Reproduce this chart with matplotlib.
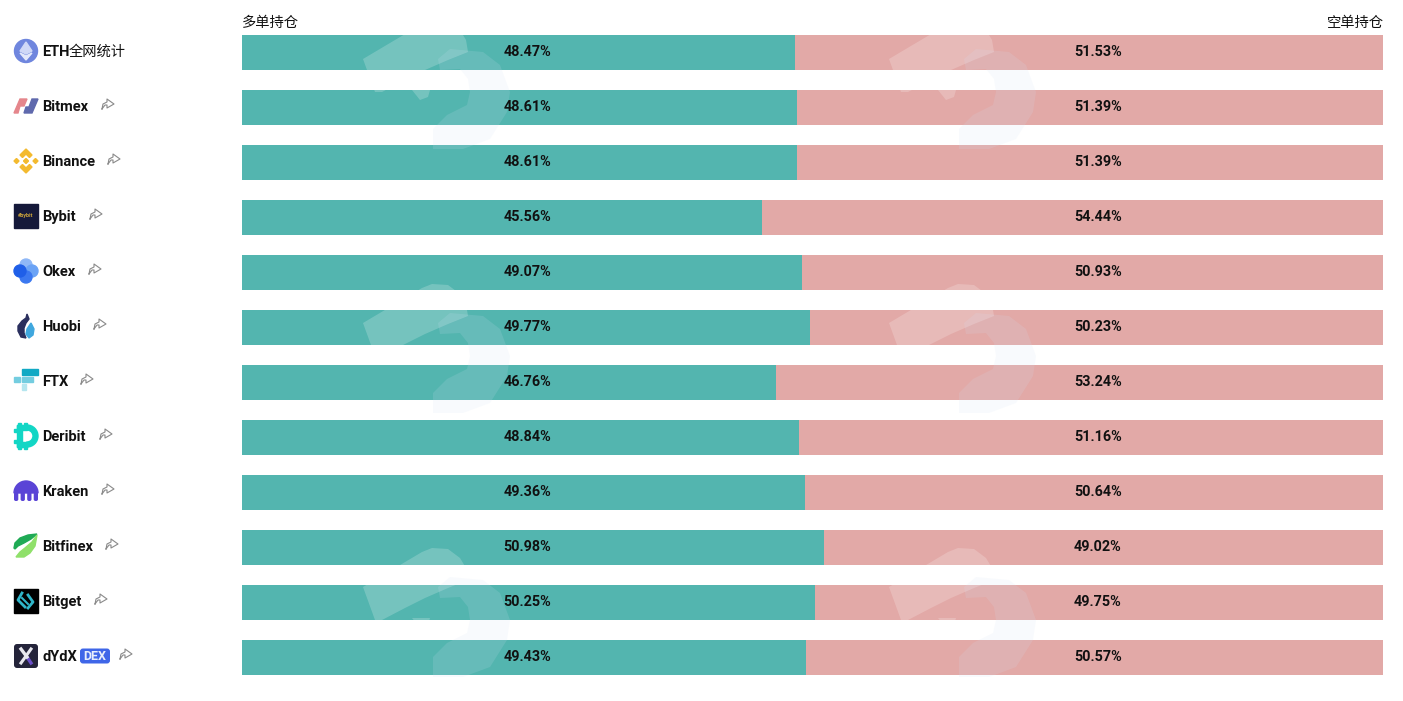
import matplotlib
matplotlib.use('Agg')
import matplotlib.pyplot as plt
from matplotlib.patches import Circle, Polygon, Rectangle, FancyBboxPatch, Wedge

plt.rcParams['font.family'] = ['Roboto', 'Noto Sans CJK SC', 'DejaVu Sans']

exchanges = ['ETH全网统计', 'Bitmex', 'Binance', 'Bybit', 'Okex', 'Huobi', 'FTX',
             'Deribit', 'Kraken', 'Bitfinex', 'Bitget', 'dYdX']
long_pct = [48.47, 48.61, 48.61, 45.56, 49.07, 49.77, 46.76, 48.84, 49.36, 50.98, 50.25, 49.43]
short_pct = [51.53, 51.39, 51.39, 54.44, 50.93, 50.23, 53.24, 51.16, 50.64, 49.02, 49.75, 50.57]
long_title = '多单持仓'
short_title = '空单持仓'

W, H = 1403, 701
GREEN = '#53b5af'
RED = '#e2a9a7'
DARK = '#111111'

fig = plt.figure(figsize=(W / 100, H / 100), dpi=100, facecolor='white')

# overlay in pixel coordinates for logos and row labels
ov = fig.add_axes([0, 0, 1, 1], facecolor='none')
ov.set_xlim(0, W)
ov.set_ylim(H, 0)
ov.axis('off')

# bars
ax = fig.add_axes([242 / W, 1 - 675 / H, 1141 / W, 640 / H])
rows = list(range(len(exchanges)))
ax.barh(rows, long_pct, height=35 / 55, color=GREEN, zorder=1)
ax.barh(rows, short_pct, left=long_pct, height=35 / 55, color=RED, zorder=1)
ax.set_xlim(0, 100)
ax.set_ylim(11 + 17.5 / 55, -17.5 / 55)
ax.axis('off')

# the labels sit at fixed spots, not in the middle of each bar
for i in rows:
    ax.text(25, i - 0.006, f'{long_pct[i]:.2f}%', ha='center', va='center',
            fontsize=10.4, fontweight='bold', color=DARK, zorder=5)
    ax.text(75, i - 0.006, f'{short_pct[i]:.2f}%', ha='center', va='center',
            fontsize=10.4, fontweight='bold', color=DARK, zorder=5)


def watermark(dx, dy):
    light = [(363, 59), (422, 24), (432, 20), (448, 21), (460, 30), (466, 40), (468, 52),
             (448, 60), (425, 70), (405, 80), (382, 92), (375, 92)]
    crescent = [(450, 49), (483, 52), (500, 65), (510, 92), (507, 112), (490, 139), (463, 149),
                (433, 149), (433, 129), (447, 115), (467, 105), (470, 92), (468, 79),
                (460, 69), (440, 70), (438, 59)]
    bit = [(412, 90), (430, 90), (428, 97), (420, 100)]
    kw = dict(transform=ov.transData, lw=0, zorder=3, clip_on=False)
    ax.add_patch(Polygon([(x + dx, y + dy) for x, y in light], color='white', alpha=0.2, **kw))
    ax.add_patch(Polygon([(x + dx, y + dy) for x, y in crescent], color='#d3e2f5', alpha=0.15, **kw))
    ax.add_patch(Polygon([(x + dx, y + dy) for x, y in bit], color='white', alpha=0.2, **kw))


for dy in (0, 264, 528):
    watermark(0, dy)
    watermark(526, dy)

ov.text(242, 22.5, long_title, ha='left', va='center', fontsize=10.3, color=DARK)
ov.text(1384, 22.5, short_title, ha='right', va='center', fontsize=10.3, color=DARK)

label_w = [0, 46, 52, 34, 33, 38, 25, 44, 46, 50, 39, 34]


def share_icon(x, y):
    ov.plot([x - 6, x - 5, x - 1, x - 1, x + 6, x - 1, x - 1, x - 3, x - 6],
            [y + 5, y, y - 2, y - 5, y, y + 4, y + 1, y + 1, y + 5],
            color='#8a8a8a', lw=0.8, zorder=6)


def logo(i, y):
    cx = 26
    if i == 0:
        ov.add_patch(Circle((cx, y), 11.5, color='#6f86de'))
        ov.add_patch(Polygon([(cx, y - 9), (cx + 6, y), (cx, y + 3), (cx - 6, y)], color='#cfd8f7'))
        ov.add_patch(Polygon([(cx, y + 9), (cx + 6, y + 2), (cx, y + 5), (cx - 6, y + 2)], color='#e4e9fb'))
    elif i == 1:
        ov.add_patch(Polygon([(14, y + 7), (20, y - 7), (27, y - 7), (24, y), (20, y), (18, y + 7)], color='#e5868c'))
        ov.add_patch(Polygon([(24, y + 7), (26, y + 1), (29, y + 1), (32, y - 7), (38, y - 7), (32, y + 7)], color='#5f69ad'))
    elif i == 2:
        c = '#f3ba2f'
        ov.add_patch(Polygon([(cx, y - 12), (cx + 6, y - 6), (cx + 3.5, y - 3.5), (cx, y - 7), (cx - 3.5, y - 3.5), (cx - 6, y - 6)], color=c))
        ov.add_patch(Polygon([(cx, y + 12), (cx + 6, y + 6), (cx + 3.5, y + 3.5), (cx, y + 7), (cx - 3.5, y + 3.5), (cx - 6, y + 6)], color=c))
        for ox in (-9.5, 0, 9.5):
            ov.add_patch(Polygon([(cx + ox - 2.5, y), (cx + ox, y - 2.5), (cx + ox + 2.5, y), (cx + ox, y + 2.5)], color=c))
    elif i == 3:
        ov.add_patch(Rectangle((14, y - 12), 24, 24, color='#15193a'))
        ov.text(cx, y, '#bybit', ha='center', va='center', fontsize=4, color='#c9a23a', fontweight='bold')
    elif i == 4:
        ov.add_patch(Circle((cx, y - 6), 6, color='#8fb8f7'))
        ov.add_patch(Circle((cx + 6, y), 6, color='#6ba3f5'))
        ov.add_patch(Circle((cx, y + 6), 6, color='#3b78f0'))
        ov.add_patch(Circle((cx - 6, y), 6, color='#1f5fe8'))
    elif i == 5:
        ov.add_patch(Polygon([(27, y - 12), (29, y - 7), (26, y - 3), (24, y + 2), (24, y + 7), (26, y + 12),
                              (21, y + 11), (18, y + 5), (18, y), (22, y - 5), (26, y - 8)], color='#2a2f5e'))
        ov.add_patch(Polygon([(31, y - 3), (34, y + 3), (33, y + 9), (29, y + 12), (26, y + 8), (27, y + 3)], color='#3fa7de'))
    elif i == 6:
        ov.add_patch(Rectangle((22, y - 12), 16, 6, color='#11a9c4'))
        ov.add_patch(Rectangle((22, y - 4), 11, 5, color='#74cde0'))
        ov.add_patch(Rectangle((14, y - 4), 6, 5, color='#74cde0'))
        ov.add_patch(Rectangle((22, y + 3), 4, 6, color='#b5e6ef'))
    elif i == 7:
        c = '#12d6c5'
        ov.add_patch(Wedge((27, y), 11, -90, 90, width=5, color=c))
        ov.add_patch(Rectangle((17, y - 11), 10, 5, color=c))
        ov.add_patch(Rectangle((17, y + 6), 10, 5, color=c))
        ov.add_patch(Rectangle((17, y - 11), 5, 22, color=c))
        for px in (18, 24):
            ov.add_patch(Rectangle((px, y - 13), 3, 3, color=c))
            ov.add_patch(Rectangle((px, y + 10), 3, 3, color=c))
        ov.add_patch(Rectangle((14, y - 7), 4, 3, color=c))
        ov.add_patch(Rectangle((14, y + 4), 4, 3, color=c))
    elif i == 8:
        c = '#5a44d6'
        ov.add_patch(Wedge((cx, y + 2), 12, 180, 360, color=c))
        for px in (14, 20.6, 27.2, 33.7):
            ov.add_patch(FancyBboxPatch((px, y + 1), 4.3, 9, boxstyle='round,pad=0,rounding_size=1.8', color=c, lw=0))
    elif i == 9:
        ov.add_patch(Polygon([(14, y + 2), (15, y - 3), (20, y - 8), (28, y - 11), (37, y - 12), (31, y - 7),
                              (24, y - 3), (18, y), (15, y + 3)], color='#1faa55'))
        ov.add_patch(Polygon([(16, y + 11), (24, y + 11), (30, y + 7), (35, y), (37, y - 11), (32, y - 4),
                              (25, y + 2), (20, y + 6)], color='#8fe06a'))
    elif i == 10:
        ov.add_patch(Rectangle((14, y - 12), 24, 24, color='#000000'))
        ov.plot([22, 18, 25], [y - 8, y - 1, y + 6], color='#2fb6c9', lw=2)
        ov.plot([28, 33, 28], [y - 6, y + 1, y + 7], color='#2fb6c9', lw=2)
        ov.plot([22, 28], [y - 3, y + 3], color='#2fb6c9', lw=1.5)
    elif i == 11:
        ov.add_patch(FancyBboxPatch((14, y - 12), 24, 24, boxstyle='round,pad=0,rounding_size=3', color='#24243a', lw=0))
        ov.plot([27, 31], [y + 1, y + 7], color='#6a4fc8', lw=2.4)
        ov.plot([21, 27], [y - 7, y + 1], color='#e8e8ee', lw=2.4)
        ov.plot([31, 21], [y - 7, y + 7], color='#e8e8ee', lw=2.2)


for i, name in enumerate(exchanges):
    y = 51 + 55 * i
    logo(i, y)
    ty = y + 1
    if i == 0:
        ov.text(42.5, ty, 'ETH', ha='left', va='center', fontsize=10.5, fontweight='bold', color=DARK)
        ov.text(69, ty, '全网统计', ha='left', va='center', fontsize=10.3, color=DARK)
        continue
    ov.text(42.5, ty, name, ha='left', va='center', fontsize=10.5, fontweight='bold', color=DARK)
    if i == 11:
        ov.add_patch(FancyBboxPatch((80, y - 7.5), 30, 15, boxstyle='round,pad=0,rounding_size=3', color='#3f66e8', lw=0))
        ov.text(95, y + 0.5, 'DEX', ha='center', va='center', fontsize=9, fontweight='bold', color='#e8eefc')
        share_icon(126, y - 2)
    else:
        share_icon(43 + label_w[i] + 19, y - 2)

fig.savefig('out.png', dpi=100, facecolor='white')
